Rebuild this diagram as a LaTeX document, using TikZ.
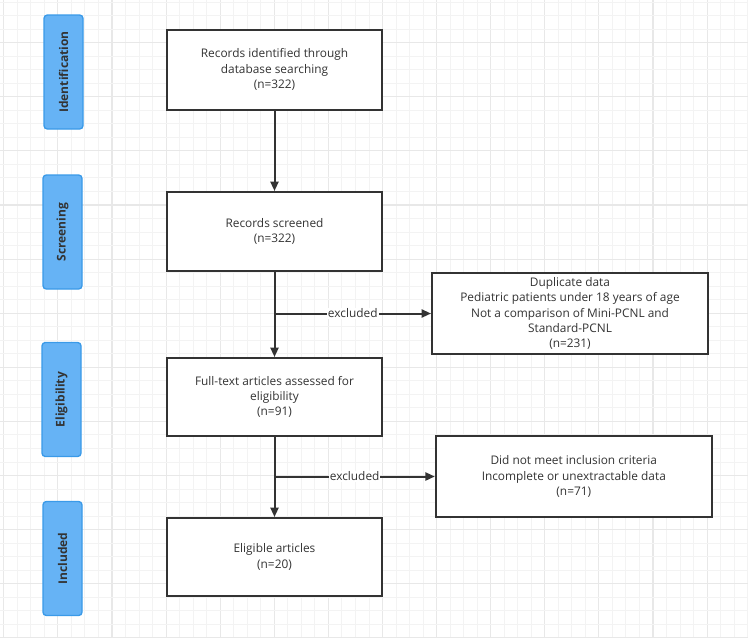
\documentclass[tikz,border=0pt]{standalone}
\usepackage{fontspec}
\setmainfont{Open Sans}
\usetikzlibrary{arrows.meta}
\definecolor{gridminor}{HTML}{F3F3F3}
\definecolor{gridmajor}{HTML}{E8E8E8}
\definecolor{boxline}{HTML}{333333}
\definecolor{txt}{HTML}{333333}
\definecolor{bluefill}{HTML}{66B3F5}
\definecolor{blueline}{HTML}{3A9AE8}
\tikzset{
  flowbox/.style={draw=boxline, line width=1.5pt, fill=white, text=txt,
    minimum width=#1*0.75pt, inner sep=0pt, align=center,
    font=\fontsize{8.9}{11.4}\selectfont},
  stagebox/.style={draw=blueline, line width=1pt, fill=bluefill, rounded corners=2.5pt,
    minimum width=114*0.75pt, minimum height=39*0.75pt, inner sep=0pt, rotate=90,
    text=txt, font=\fontsize{9}{10}\selectfont\bfseries},
  flowarrow/.style={draw=boxline, line width=1.5pt, -{Triangle[length=7pt,width=6pt]}},
  exlabel/.style={fill=white, inner sep=0.8pt, text=txt, font=\fontsize{8.9}{10}\selectfont},
}
\begin{document}
\begin{tikzpicture}[x=0.75pt, y=-0.75pt]
\useasboundingbox (0,0) rectangle (748,637);
\begin{scope}
\clip (0,0) rectangle (748,637);
\fill[white] (0,0) rectangle (748,637);
\foreach \k in {0,...,55} {
  \pgfmathsetmacro{\xx}{3.8+13.525*\k}
  \pgfmathtruncatemacro{\mm}{mod(\k,4)}
  \ifnum\mm=0 \draw[gridmajor, line width=0.8pt] (\xx,0) -- (\xx,637);
  \else \draw[gridminor, line width=0.7pt] (\xx,0) -- (\xx,637); \fi
}
\foreach \k in {1,...,48} {
  \pgfmathsetmacro{\yy}{-11.4+13.525*\k}
  \pgfmathtruncatemacro{\mm}{mod(\k,4)}
  \ifnum\mm=0 \draw[gridmajor, line width=0.8pt] (0,\yy) -- (748,\yy);
  \else \draw[gridminor, line width=0.7pt] (0,\yy) -- (748,\yy); \fi
}
\end{scope}

% stage labels
\node[stagebox] (sid) at (63.5,72) {Identification};
\node[stagebox] (ssc) at (62.5,232) {Screening};
\node[stagebox] (sel) at (61.5,399.5) {Eligibility};
\node[stagebox] (sin) at (62.5,558.5) {Included};

% main flow
\node[flowbox=215, minimum height=80*0.75pt] (idn) at (274.5,69.5) {Records identified through\\database searching\\(n=322)};
\node[flowbox=215, minimum height=79*0.75pt] (scr) at (274.5,231.5) {Records screened\\(n=322)};
\node[flowbox=215, minimum height=78*0.75pt] (elg) at (274.5,397) {Full-text articles assessed for\\eligibility\\(n=91)};
\node[flowbox=215, minimum height=78*0.75pt] (inc) at (274.5,557) {Eligible articles\\(n=20)};

% exclusion boxes
\node[flowbox=276, minimum height=81*0.75pt] (exa) at (570,313.5) {Duplicate data\\Pediatric patients under 18 years of age\\Not a comparison of Mini-PCNL and\\Standard-PCNL\\(n=231)};
\node[flowbox=276, minimum height=81*0.75pt] (exb) at (573.8,476.5) {Did not meet inclusion criteria\\Incomplete or unextractable data\\(n=71)};

% arrows
\draw[flowarrow] (idn) -- (scr);
\draw[flowarrow] (scr) -- (elg);
\draw[flowarrow] (elg) -- (inc);
\coordinate (ja) at (scr.south |- exa.west);
\coordinate (jb) at (elg.south |- exb.west);
\draw[flowarrow] (ja) -- node[exlabel] {excluded} (exa.west);
\draw[flowarrow] (jb) -- node[exlabel] {excluded} (exb.west);
\end{tikzpicture}
\end{document}
